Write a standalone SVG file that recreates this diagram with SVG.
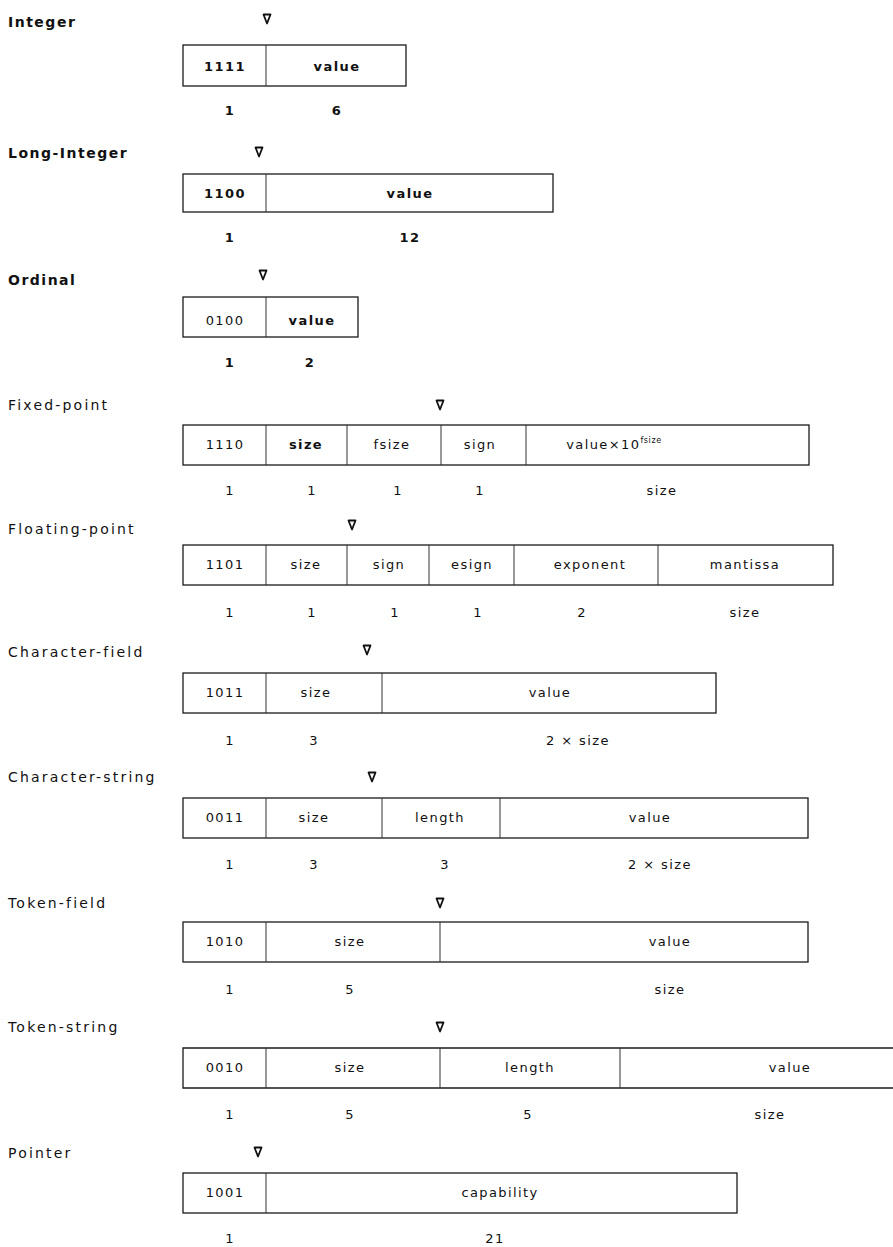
<svg xmlns="http://www.w3.org/2000/svg" width="893" height="1247" viewBox="0 0 893 1247">
  <style>
    .bg { fill: #ffffff; }
    .title { font-family: "DejaVu Sans", "Liberation Sans", sans-serif; font-size: 14px; letter-spacing: 2.2px; fill: #111; }
    .title.b { font-weight: bold; letter-spacing: 1.5px; }
    .cell { font-family: "DejaVu Sans", "Liberation Sans", sans-serif; font-size: 13px; letter-spacing: 1.4px; fill: #111; text-anchor: middle; }
    .cell.b { font-weight: bold; }
    .len { font-family: "DejaVu Sans", "Liberation Sans", sans-serif; font-size: 13px; letter-spacing: 1.4px; fill: #111; text-anchor: middle; }
    .len.b { font-weight: bold; }
    .frame { fill: none; stroke: #1a1a1a; stroke-width: 1.3; }
    .div { stroke: #333; stroke-width: 1; }
    .mark { fill: #fff; stroke: #111; stroke-width: 1.8; stroke-linejoin: round; }
  </style>
  <defs>
    <!-- small inverted triangle used as the position marker above each record -->
    <polygon id="tri" class="mark" points="-3.5,-4.5 3.5,-4.5 0,4.5"/>
  </defs>
  <rect class="bg" width="893" height="1247"/>

  <g id="integer">
    <text class="title b" x="8" y="27">Integer</text>
    <use href="#tri" x="267" y="19"/>
    <rect class="frame" x="183" y="45" width="223" height="41"/>
    <line class="div" x1="266" y1="45" x2="266" y2="86"/>
    <text class="cell b" x="225" y="71">1111</text>
    <text class="cell b" x="337" y="71">value</text>
    <text class="len b" x="230" y="115">1</text>
    <text class="len b" x="337" y="115">6</text>
  </g>

  <g id="long-integer">
    <text class="title b" x="8" y="158">Long-Integer</text>
    <use href="#tri" x="259" y="152"/>
    <rect class="frame" x="183" y="174" width="370" height="38"/>
    <line class="div" x1="266" y1="174" x2="266" y2="212"/>
    <text class="cell b" x="225" y="198">1100</text>
    <text class="cell b" x="410" y="198">value</text>
    <text class="len b" x="230" y="242">1</text>
    <text class="len b" x="410" y="242">12</text>
  </g>

  <g id="ordinal">
    <text class="title b" x="8" y="285">Ordinal</text>
    <use href="#tri" x="263" y="275"/>
    <rect class="frame" x="183" y="297" width="175" height="40"/>
    <line class="div" x1="266" y1="297" x2="266" y2="337"/>
    <text class="cell" x="225" y="325">0100</text>
    <text class="cell b" x="312" y="325">value</text>
    <text class="len b" x="230" y="367">1</text>
    <text class="len b" x="310" y="367">2</text>
  </g>

  <g id="fixed-point">
    <text class="title" x="8" y="410">Fixed-point</text>
    <use href="#tri" x="440" y="405"/>
    <rect class="frame" x="183" y="425" width="626" height="40"/>
    <line class="div" x1="266" y1="425" x2="266" y2="465"/>
    <line class="div" x1="347" y1="425" x2="347" y2="465"/>
    <line class="div" x1="441" y1="425" x2="441" y2="465"/>
    <line class="div" x1="526" y1="425" x2="526" y2="465"/>
    <text class="cell" x="225" y="449">1110</text>
    <text class="cell b" x="306" y="449">size</text>
    <text class="cell" x="392" y="449">fsize</text>
    <text class="cell" x="480" y="449">sign</text>
    <text class="cell" x="614" y="449">value×10<tspan font-size="8" dy="-6" letter-spacing="0.6">fsize</tspan></text>
    <text class="len" x="230" y="495">1</text>
    <text class="len" x="312" y="495">1</text>
    <text class="len" x="398" y="495">1</text>
    <text class="len" x="480" y="495">1</text>
    <text class="len" x="662" y="495">size</text>
  </g>

  <g id="floating-point">
    <text class="title" x="8" y="534">Floating-point</text>
    <use href="#tri" x="352" y="525"/>
    <rect class="frame" x="183" y="545" width="650" height="40"/>
    <line class="div" x1="266" y1="545" x2="266" y2="585"/>
    <line class="div" x1="347" y1="545" x2="347" y2="585"/>
    <line class="div" x1="429" y1="545" x2="429" y2="585"/>
    <line class="div" x1="514" y1="545" x2="514" y2="585"/>
    <line class="div" x1="658" y1="545" x2="658" y2="585"/>
    <text class="cell" x="225" y="569">1101</text>
    <text class="cell" x="306" y="569">size</text>
    <text class="cell" x="389" y="569">sign</text>
    <text class="cell" x="472" y="569">esign</text>
    <text class="cell" x="590" y="569">exponent</text>
    <text class="cell" x="745" y="569">mantissa</text>
    <text class="len" x="230" y="617">1</text>
    <text class="len" x="312" y="617">1</text>
    <text class="len" x="395" y="617">1</text>
    <text class="len" x="478" y="617">1</text>
    <text class="len" x="582" y="617">2</text>
    <text class="len" x="745" y="617">size</text>
  </g>

  <g id="character-field">
    <text class="title" x="8" y="657">Character-field</text>
    <use href="#tri" x="367" y="650"/>
    <rect class="frame" x="183" y="673" width="533" height="40"/>
    <line class="div" x1="266" y1="673" x2="266" y2="713"/>
    <line class="div" x1="382" y1="673" x2="382" y2="713"/>
    <text class="cell" x="225" y="697">1011</text>
    <text class="cell" x="316" y="697">size</text>
    <text class="cell" x="550" y="697">value</text>
    <text class="len" x="230" y="745">1</text>
    <text class="len" x="314" y="745">3</text>
    <text class="len" x="578" y="745">2 × size</text>
  </g>

  <g id="character-string">
    <text class="title" x="8" y="782">Character-string</text>
    <use href="#tri" x="372" y="777"/>
    <rect class="frame" x="183" y="798" width="625" height="40"/>
    <line class="div" x1="266" y1="798" x2="266" y2="838"/>
    <line class="div" x1="382" y1="798" x2="382" y2="838"/>
    <line class="div" x1="500" y1="798" x2="500" y2="838"/>
    <text class="cell" x="225" y="822">0011</text>
    <text class="cell" x="314" y="822">size</text>
    <text class="cell" x="440" y="822">length</text>
    <text class="cell" x="650" y="822">value</text>
    <text class="len" x="230" y="869">1</text>
    <text class="len" x="314" y="869">3</text>
    <text class="len" x="445" y="869">3</text>
    <text class="len" x="660" y="869">2 × size</text>
  </g>

  <g id="token-field">
    <text class="title" x="8" y="908">Token-field</text>
    <use href="#tri" x="440" y="903"/>
    <rect class="frame" x="183" y="922" width="625" height="40"/>
    <line class="div" x1="266" y1="922" x2="266" y2="962"/>
    <line class="div" x1="440" y1="922" x2="440" y2="962"/>
    <text class="cell" x="225" y="946">1010</text>
    <text class="cell" x="350" y="946">size</text>
    <text class="cell" x="670" y="946">value</text>
    <text class="len" x="230" y="994">1</text>
    <text class="len" x="350" y="994">5</text>
    <text class="len" x="670" y="994">size</text>
  </g>

  <g id="token-string">
    <text class="title" x="8" y="1032">Token-string</text>
    <use href="#tri" x="440" y="1027"/>
    <!-- this record runs past the right margin, so it has no closing edge -->
    <path class="frame" d="M893,1048 H183 V1088 H893"/>
    <line class="div" x1="266" y1="1048" x2="266" y2="1088"/>
    <line class="div" x1="440" y1="1048" x2="440" y2="1088"/>
    <line class="div" x1="620" y1="1048" x2="620" y2="1088"/>
    <text class="cell" x="225" y="1072">0010</text>
    <text class="cell" x="350" y="1072">size</text>
    <text class="cell" x="530" y="1072">length</text>
    <text class="cell" x="790" y="1072">value</text>
    <text class="len" x="230" y="1119">1</text>
    <text class="len" x="350" y="1119">5</text>
    <text class="len" x="528" y="1119">5</text>
    <text class="len" x="770" y="1119">size</text>
  </g>

  <g id="pointer">
    <text class="title" x="8" y="1158">Pointer</text>
    <use href="#tri" x="258" y="1152"/>
    <rect class="frame" x="183" y="1173" width="554" height="40"/>
    <line class="div" x1="266" y1="1173" x2="266" y2="1213"/>
    <text class="cell" x="225" y="1197">1001</text>
    <text class="cell" x="500" y="1197">capability</text>
    <text class="len" x="230" y="1243">1</text>
    <text class="len" x="495" y="1243">21</text>
  </g>
</svg>
